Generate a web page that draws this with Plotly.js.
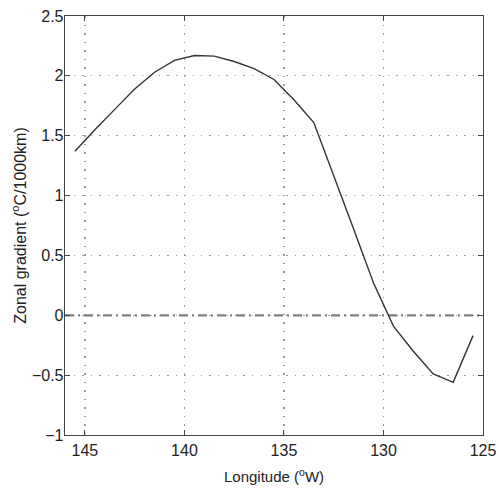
<!DOCTYPE html>
<html>
<head>
<meta charset="utf-8">
<script src="https://cdn.plot.ly/plotly-3.0.1.min.js"></script>
<style>html,body{margin:0;padding:0;background:#fff;}#chart{width:499px;height:500px;}</style>
</head>
<body>
<div id="chart"></div>
<script>
var longitude = [145.5, 144.5, 143.5, 142.5, 141.5, 140.5, 139.5, 138.5, 137.5, 136.5, 135.5, 134.5, 133.5, 132.5, 131.5, 130.5, 129.5, 128.5, 127.5, 126.5, 125.5];
var gradient  = [1.37, 1.55, 1.72, 1.89, 2.03, 2.13, 2.17, 2.165, 2.12, 2.06, 1.97, 1.80, 1.61, 1.17, 0.72, 0.27, -0.09, -0.30, -0.49, -0.56, -0.17];
var zeroLineX = [146, 125];
var zeroLineY = [0, 0];
var xTicks = [145, 140, 135, 130, 125];
var yTicks = [-1, -0.5, 0, 0.5, 1, 1.5, 2, 2.5];
var yTickText = ['\u22121', '\u22120.5', '0', '0.5', '1', '1.5', '2', '2.5'];

var FONT = 'Liberation Sans, Arial, sans-serif';

var traces = [
  {x: zeroLineX, y: zeroLineY, mode: 'lines', line: {color: '#808080', width: 2.2, dash: '9px,4px,2px,4px'}, hoverinfo: 'skip'},
  {x: longitude, y: gradient, mode: 'lines', line: {color: '#333', width: 1.4}}
];

var axisCommon = {
  showline: true, linecolor: '#444', linewidth: 1.3, mirror: 'ticks',
  ticks: 'inside', ticklen: 5, tickcolor: '#444', tickwidth: 1,
  showgrid: true, gridcolor: '#9a9a9a', griddash: '1.5px,7px', gridwidth: 1.2,
  zeroline: false,
  tickfont: {family: FONT, size: 16, color: '#222'}
};

var layout = {
  width: 499, height: 500,
  margin: {l: 65, r: 16, t: 16, b: 65},
  paper_bgcolor: '#fff', plot_bgcolor: '#fff',
  showlegend: false,
  xaxis: Object.assign({}, axisCommon, {
    range: [146, 125], tickvals: xTicks, ticktext: xTicks.map(String),
    title: {text: 'Longitude (<sup>o</sup>W)', font: {family: FONT, size: 15, color: '#222'}, standoff: 14}
  }),
  yaxis: Object.assign({}, axisCommon, {
    range: [-1, 2.5], tickvals: yTicks, ticktext: yTickText, ticklabelstandoff: -3,
    title: {text: 'Zonal gradient (<sup>o</sup>C/1000km)', font: {family: FONT, size: 16, color: '#222'}, standoff: 1}
  })
};

Plotly.newPlot('chart', traces, layout, {displayModeBar: false, staticPlot: true});
</script>
</body>
</html>
